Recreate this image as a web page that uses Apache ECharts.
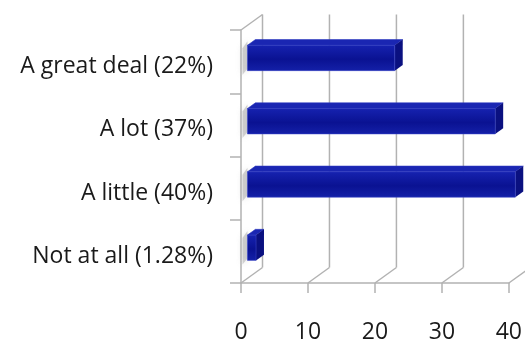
<!DOCTYPE html>
<html>
<head>
<meta charset="utf-8">
<script src="https://cdn.jsdelivr.net/npm/echarts@6/dist/echarts.min.js"></script>
<style>
  html, body { margin: 0; padding: 0; background: #fff; }
  #chart { width: 525px; height: 344px; }
</style>
</head>
<body>
<div id="chart"></div>
<script>
// Survey answers, top to bottom, with their shares in percent
const categories = ['A great deal (22%)', 'A lot (37%)', 'A little (40%)', 'Not at all (1.28%)'];
const values = [22, 37, 40, 1.28];
const xTicks = [0, 10, 20, 30, 40];

// Oblique depth of the pseudo-3D box
const DX = 21.5, DY = -15.5;
// Bars sit between these fractions of the depth
const F1 = 0.3, F2 = 0.67;
const FRAME = '#b2b2b2';

const chart = echarts.init(document.getElementById('chart'));

function frameItem(params, api) {
  const cs = params.coordSys;
  const v = api.value(0);
  const x = api.coord([v, 0])[0];
  const bottom = cs.y + cs.height;
  const style = { stroke: FRAME, lineWidth: 1.5, fill: null };
  const children = [
    // line on the back wall
    { type: 'line', shape: { x1: x + DX, y1: cs.y + DY, x2: x + DX, y2: bottom + DY }, style },
    // line across the floor
    { type: 'line', shape: { x1: x, y1: bottom, x2: x + DX, y2: bottom + DY }, style }
  ];
  if (v === 0) {
    // top edge of the left wall
    children.push({ type: 'line', shape: { x1: x, y1: cs.y, x2: x + DX, y2: cs.y + DY }, style });
  }
  return { type: 'group', children };
}

function barItem(params, api) {
  const val = api.value(0);
  const cat = api.value(1);
  const p0 = api.coord([0, cat]);
  const p1 = api.coord([val, cat]);
  const bandH = api.size([0, 1])[1];
  const h = bandH * 0.4;
  const ox = F1 * DX, oy = F1 * DY;
  const tx = (F2 - F1) * DX, ty = (F2 - F1) * DY;
  const xl = p0[0] + ox, xr = p1[0] + ox;
  const yt = p0[1] + oy - h / 2 + 1, yb = p0[1] + oy + h / 2 + 1;
  const front = new echarts.graphic.LinearGradient(0, 0, 0, 1, [
    { offset: 0, color: '#1622b0' },
    { offset: 0.55, color: '#0a1292' },
    { offset: 1, color: '#1420a8' }
  ]);
  return {
    type: 'group',
    children: [
      // soft shadow on the left wall
      {
        type: 'polygon',
        shape: { points: [[p0[0] + 1.5, yt + 3], [xl, yt - 4], [xl, yb - 2], [p0[0] + 1.5, yb + 4]] },
        style: { fill: 'rgba(160,160,160,0.45)', shadowBlur: 6, shadowColor: 'rgba(140,140,140,0.6)' }
      },
      // top face
      {
        type: 'polygon',
        shape: { points: [[xl, yt], [xr, yt], [xr + tx, yt + ty], [xl + tx, yt + ty]] },
        style: { fill: '#1a26b2', stroke: '#2c38c0', lineWidth: 0.6 }
      },
      // end face
      {
        type: 'polygon',
        shape: { points: [[xr, yt], [xr + tx, yt + ty], [xr + tx, yb + ty], [xr, yb]] },
        style: { fill: '#0a1080' }
      },
      // front face
      {
        type: 'rect',
        shape: { x: xl, y: yt, width: xr - xl, height: yb - yt },
        style: { fill: front, stroke: '#3440c4', lineWidth: 0.6 }
      }
    ]
  };
}

chart.setOption({
  animation: false,
  grid: { left: 241, top: 30, right: 9, bottom: 56, containLabel: false },
  xAxis: {
    type: 'value',
    min: 0, max: 40, interval: 10,
    axisLine: { show: true, lineStyle: { color: FRAME, width: 1.5 } },
    axisTick: { show: true, length: 10, lineStyle: { color: FRAME, width: 1.5 } },
    splitLine: { show: false },
    axisLabel: {
      margin: 38,
      color: '#1a1a1a',
      fontFamily: 'Open Sans',
      fontSize: 23,
      formatter: v => String(v)
    }
  },
  yAxis: {
    type: 'category',
    data: categories,
    inverse: true,
    axisLine: { show: true, lineStyle: { color: FRAME, width: 1.5 } },
    axisTick: { show: true, length: 11, lineStyle: { color: FRAME, width: 1.5 } },
    splitLine: { show: false },
    axisLabel: {
      margin: 28,
      formatter: v => '{c|' + v + '}',
      rich: {
        c: {
          color: '#1a1a1a',
          fontFamily: 'Open Sans',
          fontSize: 23,
          padding: [10, 0, 0, 0]
        }
      }
    }
  },
  series: [
    {
      type: 'custom',
      z: 1,
      renderItem: frameItem,
      data: xTicks.map(v => [v, 0]),
      encode: { x: 0, y: 1 },
      silent: true
    },
    {
      type: 'custom',
      z: 5,
      renderItem: barItem,
      data: values.map((v, i) => [v, i]),
      encode: { x: 0, y: 1 }
    }
  ]
});
</script>
</body>
</html>
